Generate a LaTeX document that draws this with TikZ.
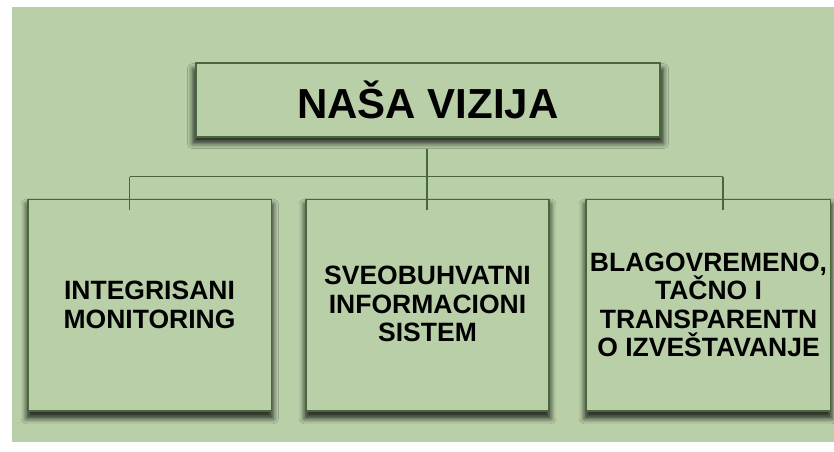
\documentclass[tikz,border=0pt]{standalone}
\usepackage{fontspec}
\setmainfont{Liberation Sans}
\usetikzlibrary{shadows.blur}
\definecolor{bggreen}{RGB}{185,207,168}
\definecolor{edgegreen}{RGB}{72,104,60}
\begin{document}
\begin{tikzpicture}[x=1pt,y=-1pt,
  vbox/.style={draw=edgegreen, line width=1.8pt, fill=bggreen,
    blur shadow={shadow xshift=0pt, shadow yshift=-6pt, shadow blur radius=5pt, shadow opacity=75, shadow scale=1.015}},
  boxtext/.style={align=center, font=\fontsize{26.5}{28.3}\selectfont\bfseries},
  link/.style={draw=edgegreen, line width=1.8pt}]
\useasboundingbox (0,0) rectangle (834,451);
\fill[white] (0,0) rectangle (834,451);
\fill[bggreen] (12,7) rectangle (834,442);
% boxes
\path[vbox] (196,63) rectangle (660,137);
\node[font=\fontsize{42}{46}\selectfont\bfseries] (top) at (428,100) {NAŠA VIZIJA};
\path[vbox] (28,199.5) rectangle (271.5,411);
\path[vbox] (306,199.5) rectangle (549,411);
\path[vbox] (586,199.5) rectangle (830.5,411);
\node[boxtext] (b1) at (149.5,305) {INTEGRISANI\\MONITORING};
\node[boxtext] (b2) at (427.5,304) {SVEOBUHVATNI\\INFORMACIONI\\SISTEM};
\node[boxtext] (b3) at (708.5,305) {BLAGOVREMENO,\\TAČNO I\\TRANSPARENTN\\O IZVEŠTAVANJE};
% connectors
\coordinate (c0) at (427,149);
\coordinate (cm) at (427,176.5);
\coordinate (cl) at (129.5,176.5);
\coordinate (cr) at (723,176.5);
\coordinate (d1) at (129.5,210);
\coordinate (d2) at (427,210);
\coordinate (d3) at (723,210);
\draw[link] (c0) -- (cm);
\draw[link] (cl) -- (cr);
\draw[link] (cl) -- (d1);
\draw[link] (cm) -- (d2);
\draw[link] (cr) -- (d3);
\end{tikzpicture}
\end{document}
